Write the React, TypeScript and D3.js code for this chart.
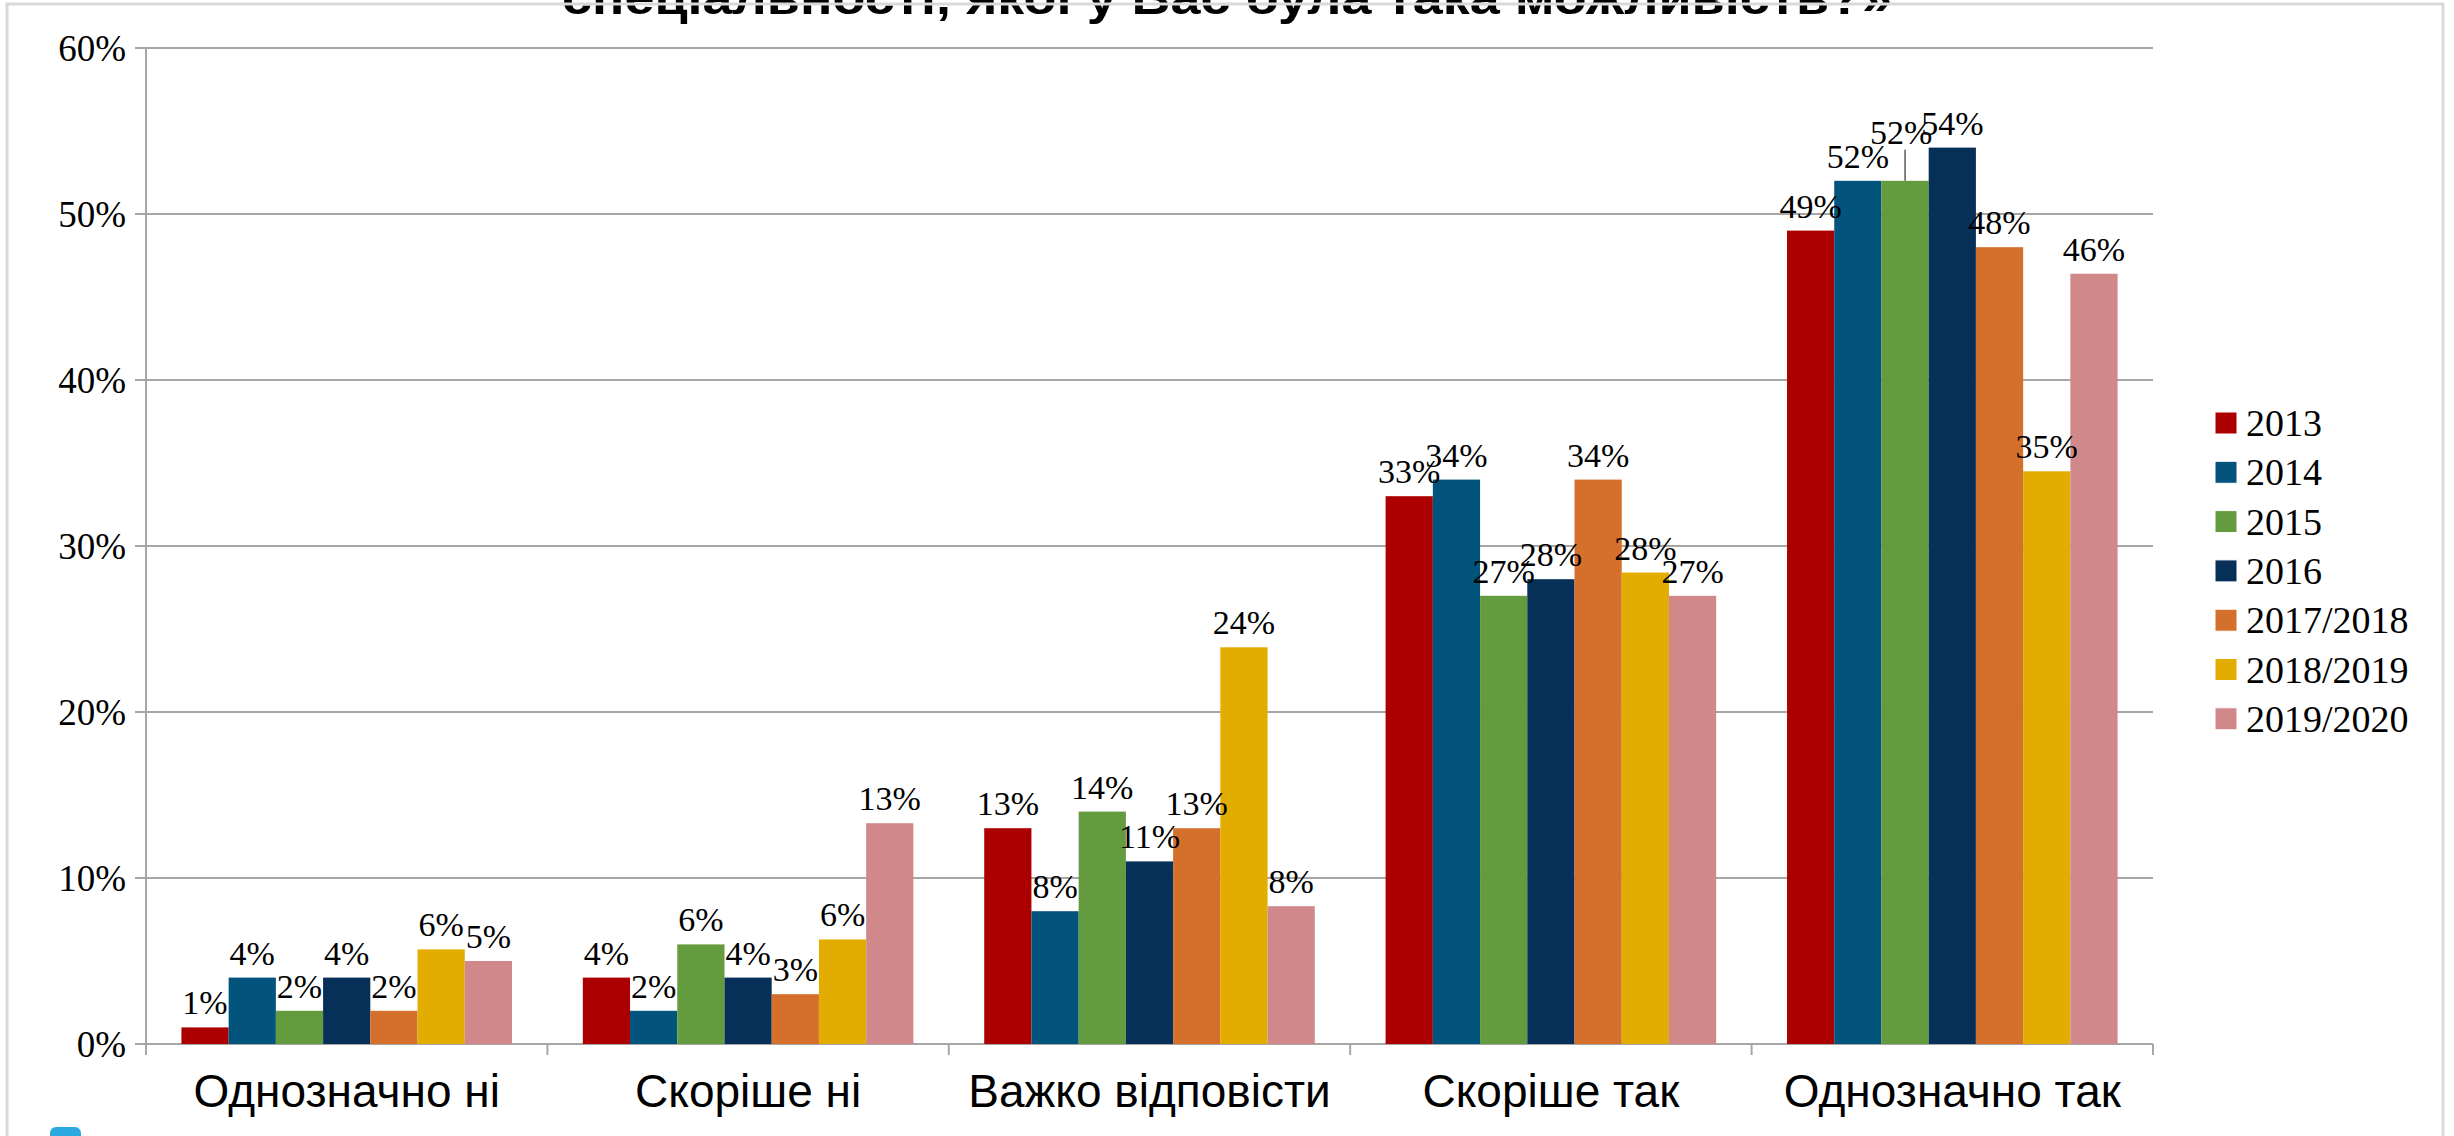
import { useEffect, useRef } from "react";
import * as d3 from "d3";

const categories = ["Однозначно ні", "Скоріше ні", "Важко відповісти", "Скоріше так", "Однозначно так"];
const seriesNames = ["2013", "2014", "2015", "2016", "2017/2018", "2018/2019", "2019/2020"];
const seriesColors = ["#ac0000", "#03547d", "#649b3f", "#073059", "#d46f2c", "#e3ac00", "#d0888a"];

// values per series, in category order (percent)
const s2013 = [1, 4, 13, 33, 49];
const s2014 = [4, 2, 8, 34, 52];
const s2015 = [2, 6, 14, 27, 52];
const s2016 = [4, 4, 11, 28, 54];
const s2017 = [2, 3, 13, 34, 48];
const s2018 = [5.7, 6.3, 23.9, 28.4, 34.5];
const s2019 = [5, 13.3, 8.3, 27, 46.4];
const seriesValues = [s2013, s2014, s2015, s2016, s2017, s2018, s2019];

const yTicks = [0, 10, 20, 30, 40, 50, 60];
const titleText = "спеціальності, якої у Вас була така можливість?»";

export default function App() {
  const ref = useRef<SVGSVGElement>(null);

  useEffect(() => {
    document.body.style.margin = "0";
    const width = 2454;
    const height = 1136;
    const left = 146;
    const right = 2153;
    const top = 48;
    const bottom = 1044;

    const svg = d3.select(ref.current);
    svg.selectAll("*").remove();
    svg.attr("width", width).attr("height", height);

    svg.append("rect").attr("width", width).attr("height", height).attr("fill", "#fff");

    // title (its first line is cut off above the frame)
    svg.append("text")
      .attr("x", 562)
      .attr("y", 14)
      .attr("textLength", 1330)
      .attr("lengthAdjust", "spacingAndGlyphs")
      .attr("font-family", "Liberation Sans, Arial, sans-serif")
      .attr("font-weight", "bold")
      .attr("font-size", 46)
      .text(titleText);

    // frame
    svg.append("rect")
      .attr("x", 7).attr("y", 4)
      .attr("width", 2436).attr("height", 1300)
      .attr("fill", "none")
      .attr("stroke", "#d9d9d9")
      .attr("stroke-width", 3);

    const x = d3.scaleBand<string>().domain(categories).range([left, right]).paddingInner(0).paddingOuter(0);
    const xs = d3.scaleBand<string>().domain(seriesNames).range([0, x.bandwidth()]).paddingInner(0).paddingOuter(0.75);
    const y = d3.scaleLinear().domain([0, 60]).range([bottom, top]);

    // gridlines
    svg.append("g")
      .selectAll("line")
      .data(yTicks)
      .enter()
      .append("line")
      .attr("x1", left - 11)
      .attr("x2", right)
      .attr("y1", d => y(d))
      .attr("y2", d => y(d))
      .attr("stroke", "#a6a6a6")
      .attr("stroke-width", 2);

    // y axis line
    svg.append("line")
      .attr("x1", left).attr("x2", left)
      .attr("y1", top).attr("y2", bottom + 11)
      .attr("stroke", "#a6a6a6").attr("stroke-width", 2);

    // x ticks at category boundaries
    const bounds = categories.map(c => x(c) as number).concat([right]);
    svg.append("g")
      .selectAll("line")
      .data(bounds.slice(1))
      .enter()
      .append("line")
      .attr("x1", d => d).attr("x2", d => d)
      .attr("y1", bottom).attr("y2", bottom + 11)
      .attr("stroke", "#a6a6a6").attr("stroke-width", 2);

    // y tick labels
    svg.append("g")
      .selectAll("text")
      .data(yTicks)
      .enter()
      .append("text")
      .attr("x", 126)
      .attr("y", d => y(d))
      .attr("dy", "0.35em")
      .attr("text-anchor", "end")
      .attr("font-family", "Liberation Serif, Times New Roman, serif")
      .attr("font-size", 37)
      .text(d => d + "%");

    // category labels
    svg.append("g")
      .selectAll("text")
      .data(categories)
      .enter()
      .append("text")
      .attr("x", d => (x(d) as number) + x.bandwidth() / 2)
      .attr("y", 1107)
      .attr("text-anchor", "middle")
      .attr("font-family", "Liberation Sans, Arial, sans-serif")
      .attr("font-size", 46)
      .text(d => d);

    // bars and labels
    const cells = categories.flatMap((c, ci) =>
      seriesNames.map((s, si) => ({ c, ci, s, si, v: seriesValues[si][ci] }))
    );

    svg.append("g")
      .selectAll("rect")
      .data(cells)
      .enter()
      .append("rect")
      .attr("x", d => (x(d.c) as number) + (xs(d.s) as number))
      .attr("y", d => y(d.v))
      .attr("width", xs.bandwidth())
      .attr("height", d => bottom - y(d.v))
      .attr("fill", d => seriesColors[d.si]);

    const labels = svg.append("g");
    cells.forEach(d => {
      const cx = (x(d.c) as number) + (xs(d.s) as number) + xs.bandwidth() / 2;
      const prev = d.si > 0 ? seriesValues[d.si - 1][d.ci] : null;
      const clash = prev !== null && Math.round(prev) === Math.round(d.v);
      let ly = y(d.v) - 13;
      if (clash) {
        ly -= 24;
        labels.append("line")
          .attr("x1", cx).attr("x2", cx)
          .attr("y1", y(d.v)).attr("y2", ly + 6)
          .attr("stroke", "#595959").attr("stroke-width", 1.5);
      }
      labels.append("text")
        .attr("x", clash ? cx - 4 : cx)
        .attr("y", ly)
        .attr("text-anchor", "middle")
        .attr("font-family", "Liberation Serif, Times New Roman, serif")
        .attr("font-size", 34)
        .text(Math.round(d.v) + "%");
    });

    // legend
    const legend = svg.append("g");
    seriesNames.forEach((s, i) => {
      const cy = 423 + i * 49.3;
      legend.append("rect")
        .attr("x", 2215).attr("y", cy - 11)
        .attr("width", 22).attr("height", 22)
        .attr("fill", seriesColors[i])
        .attr("stroke", "#fff").attr("stroke-width", 1);
      legend.append("text")
        .attr("x", 2246).attr("y", cy + 13)
        .attr("font-family", "Liberation Serif, Times New Roman, serif")
        .attr("font-size", 38)
        .text(s);
    });

    // small blue tab at the bottom-left
    svg.append("rect")
      .attr("x", 50).attr("y", 1127)
      .attr("width", 31).attr("height", 20)
      .attr("rx", 6)
      .attr("fill", "#2aa8e0");
  }, []);

  return <svg ref={ref} style={{ display: "block" }} />;
}
